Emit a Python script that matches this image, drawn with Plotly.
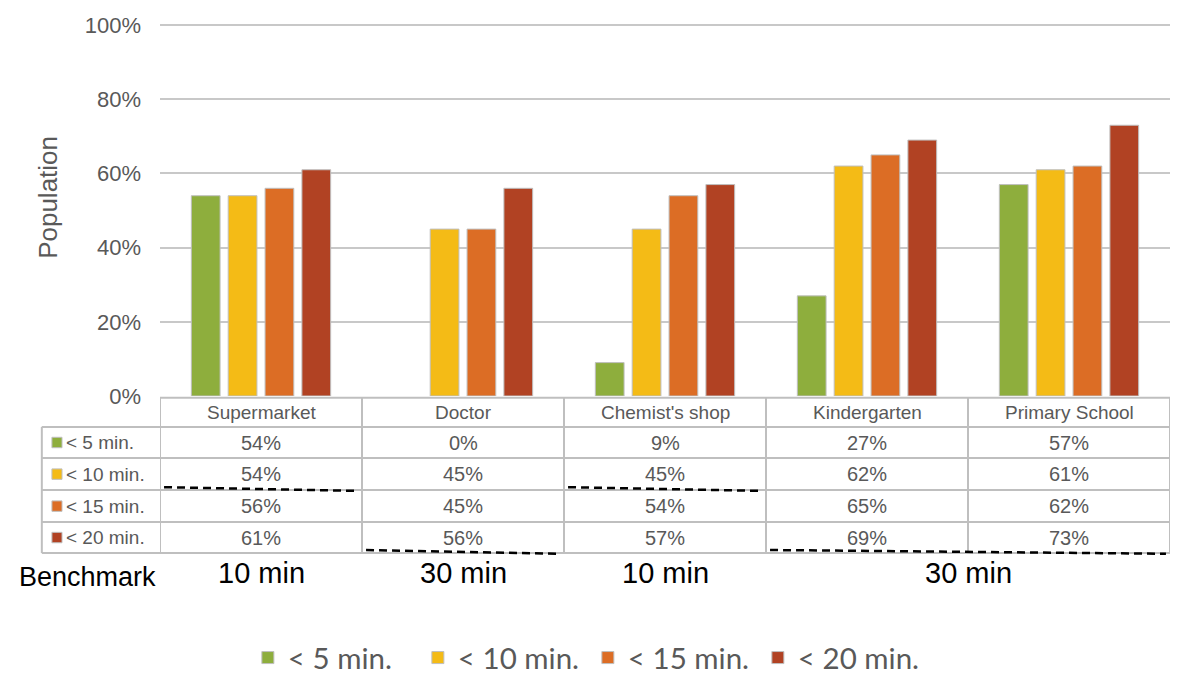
import plotly.graph_objects as go

categories = ["Supermarket", "Doctor", "Chemist's shop", "Kindergarten", "Primary School"]
series_names = ["< 5 min.", "< 10 min.", "< 15 min.", "< 20 min."]
lt5 = [54, 0, 9, 27, 57]
lt10 = [54, 45, 45, 62, 61]
lt15 = [56, 45, 54, 65, 62]
lt20 = [61, 56, 57, 69, 73]
benchmarks = ["10 min", "30 min", "10 min", "30 min", "30 min"]
colors = ["#8EAE3D", "#F4BB16", "#DC6D25", "#B14223"]

values = [lt5, lt10, lt15, lt20]
grey = "#595959"
border = "#BFBFBF"

fig = go.Figure()
for name, vals, col in zip(series_names, values, colors):
    fig.add_trace(go.Bar(
        x=categories, y=[v / 100 for v in vals], name=name,
        marker=dict(color=col, line=dict(color=border, width=[0 if v == 0 else 1 for v in vals])),
    ))

# table geometry (paper y of row edges, header first)
row_edges = [-0.005, -0.083, -0.167, -0.253, -0.339, -0.422]
left_col = -0.117

shapes = []
annotations = []
# horizontal lines across data columns
for y in row_edges:
    shapes.append(dict(type="line", xref="x", yref="paper", x0=-0.5, x1=4.5, y0=y, y1=y,
                       line=dict(color=border, width=2)))
# horizontal lines in the legend column
for y in row_edges[1:]:
    shapes.append(dict(type="line", xref="paper", yref="paper", x0=left_col, x1=0, y0=y, y1=y,
                       line=dict(color=border, width=2)))
# vertical lines
for i in range(len(categories) + 1):
    shapes.append(dict(type="line", xref="x", yref="paper", x0=i - 0.5, x1=i - 0.5,
                       y0=row_edges[0], y1=row_edges[-1], line=dict(color=border, width=2)))
shapes.append(dict(type="line", xref="paper", yref="paper", x0=left_col, x1=left_col,
                   y0=row_edges[1], y1=row_edges[-1], line=dict(color=border, width=2)))

# header labels
for cat in categories:
    annotations.append(dict(x=cat, y=(row_edges[0] + row_edges[1]) / 2, xref="x", yref="paper",
                            text=cat, showarrow=False, yanchor="middle",
                            font=dict(size=19, color=grey)))

# rows
for r, (name, vals, col) in enumerate(zip(series_names, values, colors)):
    yc = (row_edges[r + 1] + row_edges[r + 2]) / 2
    shapes.append(dict(type="rect", xref="paper", yref="paper",
                       x0=left_col + 0.010, x1=left_col + 0.020, y0=yc - 0.014, y1=yc + 0.014,
                       fillcolor=col, line=dict(color=border, width=1)))
    annotations.append(dict(x=left_col + 0.022, y=yc, xref="paper", yref="paper", text=name,
                            showarrow=False, xanchor="left", yanchor="middle",
                            font=dict(size=19, color=grey)))
    for cat, v in zip(categories, vals):
        annotations.append(dict(x=cat, y=yc, xref="x", yref="paper", text=f"{v}%",
                                showarrow=False, yanchor="middle",
                                font=dict(size=20, color=grey)))

# benchmark spans (consecutive equal benchmarks are merged)
spans = []
for i, b in enumerate(benchmarks):
    if spans and spans[-1][0] == b and spans[-1][2] == i - 1:
        spans[-1][2] = i
    else:
        spans.append([b, i, i])
for b, i0, i1 in spans:
    row = series_names.index("< 10 min.") if b == "10 min" else series_names.index("< 20 min.")
    yl = row_edges[row + 2] + 0.008
    shapes.append(dict(type="line", xref="x", yref="paper", x0=i0 - 0.48, x1=i1 + 0.48,
                       y0=yl, y1=yl - 0.01,
                       line=dict(color="black", width=2.5, dash="8px,5px")))
    annotations.append(dict(x=(i0 + i1) / 2, y=-0.476, xref="x", yref="paper", text=b,
                            showarrow=False, yanchor="middle",
                            font=dict(size=29, color="black")))

annotations.append(dict(x=-0.002, y=-0.487, xref="paper", yref="paper", text="Benchmark",
                        showarrow=False, xanchor="right", yanchor="middle",
                        font=dict(size=27, color="black")))

# y axis title
annotations.append(dict(x=-0.111, y=0.535, xref="paper", yref="paper", text="Population",
                        textangle=-90, showarrow=False, xanchor="center", yanchor="middle",
                        font=dict(size=26, color=grey)))

fig.update_layout(
    width=1173, height=675,
    margin=dict(l=152, r=11, t=16, b=287, autoexpand=False),
    plot_bgcolor="white", paper_bgcolor="white",
    font=dict(family="Liberation Sans, Arial, sans-serif", color=grey),
    barmode="group", bargap=0.27, bargroupgap=0.22,
    showlegend=True,
    legend=dict(orientation="h", x=0.087, y=-0.704, xanchor="left", yanchor="middle",
                font=dict(family="Lato, sans-serif", size=29.5, color=grey),
                entrywidth=125, entrywidthmode="pixels", traceorder="normal"),
    shapes=shapes,
    annotations=annotations,
)
fig.update_yaxes(range=[0, 1.003], dtick=0.2, tickformat=".0%", gridcolor="#C8C8C8", gridwidth=2,
                 zeroline=False, showline=False, ticks="", ticklabelstandoff=18,
                 tickfont=dict(size=22, color=grey))
fig.update_xaxes(showticklabels=False, showgrid=False, zeroline=False, showline=False,
                 range=[-0.5, 4.5])

fig.write_html("out.html")
